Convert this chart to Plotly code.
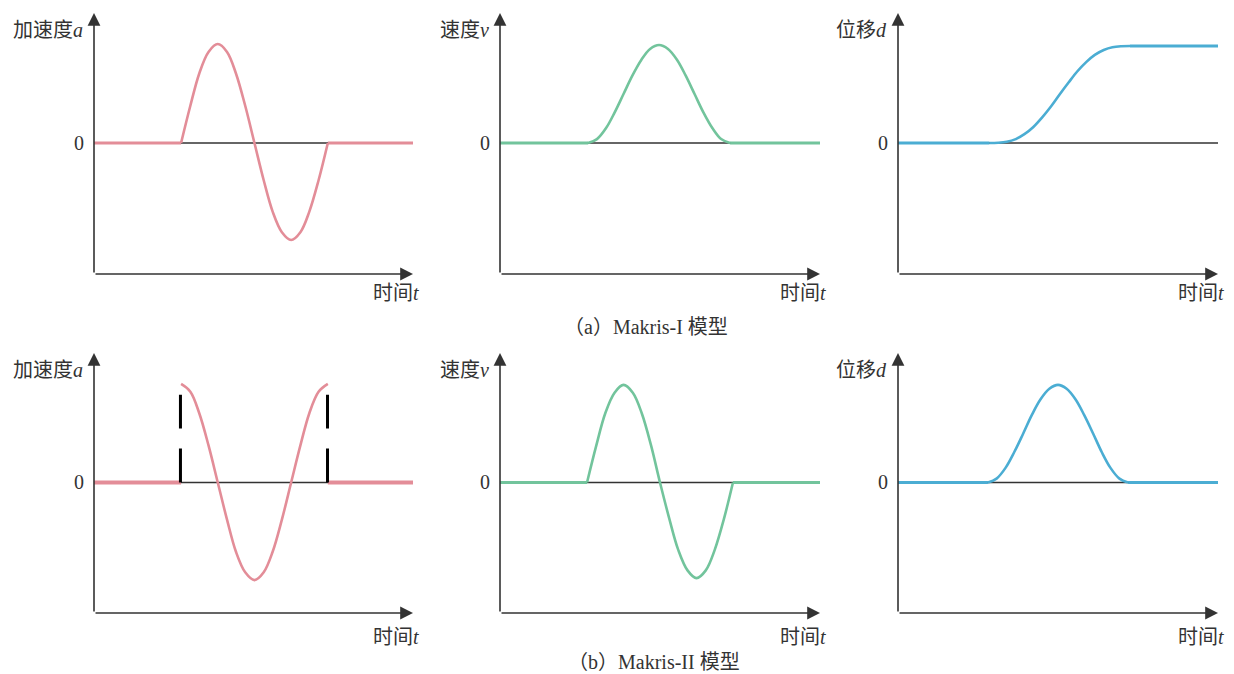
import plotly.graph_objs as go

# figure size in px
W, H = 1234, 674

# time axis runs 0..10 from the y-axis to the arrow tip, amplitude ~ +-1

# (a) Makris-I : acceleration, velocity, displacement
t_acc_1 = [2.73, 3.02, 3.30, 3.59, 3.88, 4.17, 4.45, 4.74, 5.03,
           5.32, 5.60, 5.89, 6.18, 6.47, 6.75, 7.04, 7.33]
a_acc_1 = [0.0, 0.38, 0.71, 0.93, 1.01, 0.93, 0.71, 0.38, 0.0,
           -0.38, -0.70, -0.91, -0.99, -0.91, -0.70, -0.38, 0.0]

t_vel_1 = [2.75, 3.03, 3.31, 3.58, 3.86, 4.14, 4.42, 4.69, 4.97,
           5.25, 5.53, 5.80, 6.08, 6.36, 6.64, 6.91, 7.19]
v_vel_1 = [0.0, 0.04, 0.15, 0.31, 0.50, 0.69, 0.85, 0.96, 1.0,
           0.96, 0.85, 0.69, 0.50, 0.31, 0.15, 0.04, 0.0]

t_dis_1 = [2.85, 3.13, 3.40, 3.68, 3.95, 4.23, 4.50, 4.78, 5.05,
           5.33, 5.60, 5.88, 6.15, 6.43, 6.70, 6.98, 7.25]
d_dis_1 = [0.0, 0.002, 0.012, 0.04, 0.09, 0.164, 0.26, 0.373, 0.495,
           0.617, 0.73, 0.826, 0.90, 0.95, 0.978, 0.988, 0.99]

# (b) Makris-II
t_acc_2 = [2.73, 3.02, 3.30, 3.59, 3.88, 4.17, 4.45, 4.74, 5.03,
           5.32, 5.60, 5.89, 6.18, 6.47, 6.75, 7.04, 7.33]
a_acc_2 = [1.01, 0.93, 0.71, 0.38, 0.0, -0.38, -0.71, -0.92, -1.0,
           -0.92, -0.71, -0.38, 0.0, 0.38, 0.71, 0.93, 1.01]
# jump markers (dashed) at both ends of the pulse
t_jump = [2.71, 7.32]
a_jump = 0.90

t_vel_2 = [2.72, 3.01, 3.29, 3.58, 3.86, 4.15, 4.43, 4.72, 5.00,
           5.29, 5.57, 5.86, 6.14, 6.43, 6.71, 7.00, 7.28]
v_vel_2 = [0.0, 0.38, 0.71, 0.92, 1.0, 0.92, 0.71, 0.38, 0.0,
           -0.37, -0.69, -0.90, -0.98, -0.90, -0.69, -0.37, 0.0]

t_dis_2 = [2.81, 3.08, 3.36, 3.63, 3.91, 4.18, 4.45, 4.73, 5.00,
           5.27, 5.55, 5.82, 6.10, 6.37, 6.64, 6.92, 7.19]
d_dis_2 = [0.0, 0.04, 0.15, 0.31, 0.50, 0.69, 0.85, 0.96, 1.0,
           0.96, 0.85, 0.69, 0.50, 0.31, 0.15, 0.04, 0.0]

y_labels = ['加速度<i>a</i>', '速度<i>v</i>', '位移<i>d</i>']
x_label = '时间<i>t</i>'
captions = ['（a）Makris-I 模型', '（b）Makris-II 模型']

PINK = '#e38d98'
GREEN = '#72c49c'
BLUE = '#4badd3'
AXC = '#333333'
FONT = 'Liberation Serif, Noto Sans CJK SC, serif'

# panels: (row, col, t, values, level after pulse, colour)
panels = [
    (0, 0, t_acc_1, a_acc_1, 0.0, PINK),
    (0, 1, t_vel_1, v_vel_1, 0.0, GREEN),
    (0, 2, t_dis_1, d_dis_1, d_dis_1[-1], BLUE),
    (1, 0, t_acc_2, a_acc_2, 0.0, PINK),
    (1, 1, t_vel_2, v_vel_2, 0.0, GREEN),
    (1, 2, t_dis_2, d_dis_2, 0.0, BLUE),
]

# pixel placement of the axes (y-axis x, arrow tip x) and (arrow tip y, x-axis y)
col_px = [(94, 413), (500, 820), (898, 1218)]
row_px = [(13, 274), (353, 613)]
zero_px = [143, 482]
YMIN, YMAX = -1.337, 1.327


def px(x):
    return x / W


def py(y):
    return 1 - y / H


fig = go.Figure()
annotations = []
shapes = []

for i, (r, c, t, v, after, color) in enumerate(panels):
    n = '' if i == 0 else str(i + 1)
    xa, ya = 'x' + n, 'y' + n
    x0, x1 = col_px[c]
    y0, y1 = row_px[r]
    fig.layout['xaxis' + n] = dict(domain=[px(x0), px(x1)], range=[0, 10],
                                   visible=False, anchor=ya, fixedrange=True)
    fig.layout['yaxis' + n] = dict(domain=[py(y1), py(y0)], range=[YMIN, YMAX],
                                   visible=False, anchor=xa, fixedrange=True)

    # zero line
    shapes.append(dict(type='line', xref=xa, yref=ya, x0=0, x1=10, y0=0, y1=0,
                       line=dict(color=AXC, width=1.6), layer='below'))

    # curve: flat lead-in, pulse, flat tail
    flat_w = 4 if (r == 1 and c == 0) else 2.8
    fig.add_trace(go.Scatter(x=[0, t[0]], y=[0, 0], mode='lines', xaxis=xa, yaxis=ya,
                             line=dict(color=color, width=flat_w), hoverinfo='skip'))
    fig.add_trace(go.Scatter(x=[t[-1], 10], y=[after, after], mode='lines', xaxis=xa, yaxis=ya,
                             line=dict(color=color, width=flat_w), hoverinfo='skip'))
    fig.add_trace(go.Scatter(x=t, y=v, mode='lines', xaxis=xa, yaxis=ya,
                             line=dict(color=color, width=2.6, shape='spline', smoothing=1),
                             hoverinfo='skip'))

    if r == 1 and c == 0:
        jx, jy = [], []
        for tj in t_jump:
            jx += [tj, tj, None]
            jy += [0, a_jump, None]
        fig.add_trace(go.Scatter(x=jx, y=jy, mode='lines', xaxis=xa, yaxis=ya,
                                 line=dict(color='black', width=3, dash='34px,20px'),
                                 hoverinfo='skip'))

    # axes with arrowheads
    annotations.append(dict(xref=xa, yref=ya, axref=xa, ayref=ya,
                            x=10, y=YMIN, ax=0, ay=YMIN, text='', showarrow=True,
                            arrowhead=2, arrowsize=1.6, arrowwidth=1.6,
                            arrowcolor=AXC, standoff=0))
    annotations.append(dict(xref=xa, yref=ya, axref=xa, ayref=ya,
                            x=0, y=YMAX, ax=0, ay=YMIN, text='', showarrow=True,
                            arrowhead=2, arrowsize=1.6, arrowwidth=1.6,
                            arrowcolor=AXC, standoff=0))

    # labels
    lab_font = dict(family=FONT, size=20, color=AXC)
    annotations.append(dict(xref='paper', yref='paper', x=px(x0 - 9), y=py(y0 + 17),
                            text=y_labels[c], showarrow=False, xanchor='right',
                            yanchor='middle', font=lab_font))
    annotations.append(dict(xref='paper', yref='paper', x=px(x1 + 8), y=py(y1 + 19 + 5 * r),
                            text=x_label, showarrow=False, xanchor='right',
                            yanchor='middle', font=lab_font))
    annotations.append(dict(xref='paper', yref='paper', x=px(x0 - 8), y=py(zero_px[r]),
                            text='0', showarrow=False, xanchor='right',
                            yanchor='middle', font=lab_font))

# captions
annotations.append(dict(xref='paper', yref='paper', x=px(646), y=py(327), text=captions[0],
                        showarrow=False, xanchor='center', yanchor='middle',
                        font=dict(family=FONT, size=20, color=AXC)))
annotations.append(dict(xref='paper', yref='paper', x=px(654), y=py(662), text=captions[1],
                        showarrow=False, xanchor='center', yanchor='middle',
                        font=dict(family=FONT, size=20, color=AXC)))

fig.update_layout(width=W, height=H, margin=dict(l=0, r=0, t=0, b=0),
                  paper_bgcolor='white', plot_bgcolor='white', showlegend=False,
                  annotations=annotations, shapes=shapes)

# drop the default page margin so the figure sits at the window corner
fig.write_html('out.html', config={'displayModeBar': False},
               post_script="document.body.style.margin='0px';")
